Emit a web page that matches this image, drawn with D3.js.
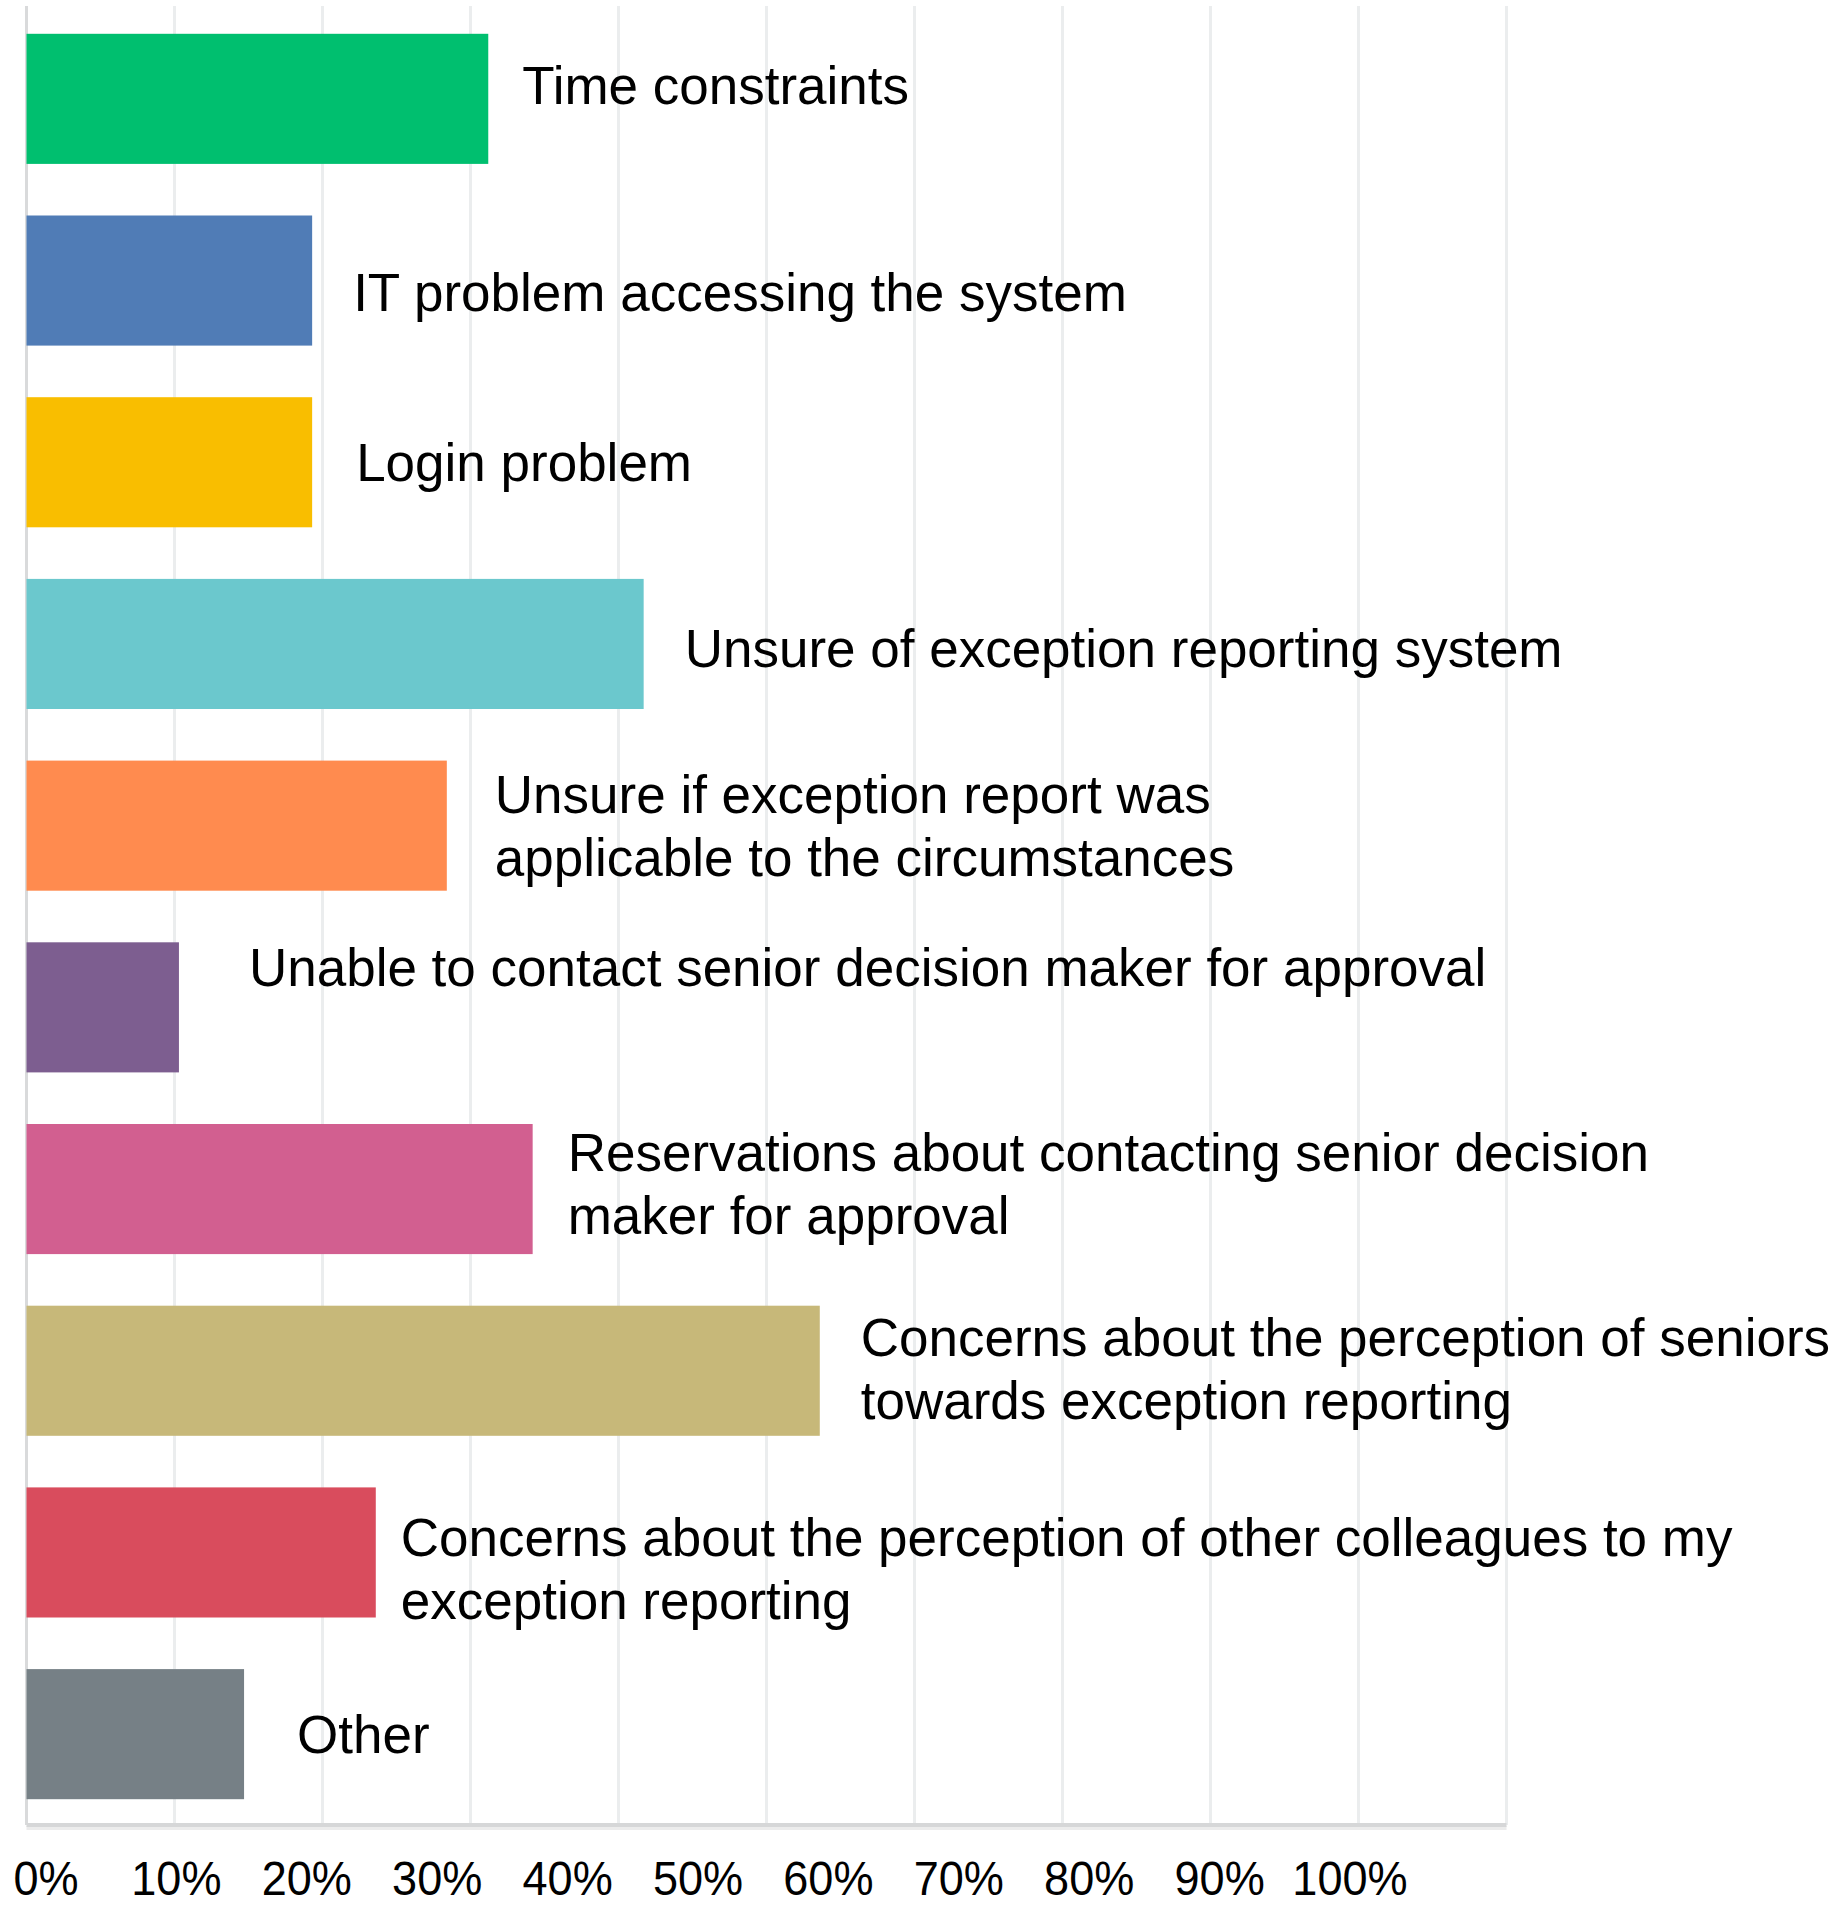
<!DOCTYPE html>
<html>
<head>
<meta charset="utf-8">
<script src="https://cdn.jsdelivr.net/npm/d3@7/dist/d3.min.js"></script>
<style>
  html, body { margin: 0; padding: 0; background: #ffffff; }
  svg { display: block; }
  text { font-family: "Liberation Sans", Arial, Helvetica, sans-serif; fill: #000; }
</style>
</head>
<body>
<svg id="chart" width="1843" height="1906"></svg>
<script>
// Reasons for not submitting an exception report (% of respondents)
const categories = [
  ["Time constraints"],
  ["IT problem accessing the system"],
  ["Login problem"],
  ["Unsure of exception reporting system"],
  ["Unsure if exception report was", "applicable to the circumstances"],
  ["Unable to contact senior decision maker for approval"],
  ["Reservations about contacting senior decision", "maker for approval"],
  ["Concerns about the perception of seniors", "towards exception reporting"],
  ["Concerns about the perception of other colleagues to my", "exception reporting"],
  ["Other"]
];
const values = [31.2, 19.3, 19.3, 41.7, 28.4, 10.3, 34.2, 53.6, 23.6, 14.7];
const colors = ["#00BF6F", "#507CB6", "#F9BE00", "#6BC8CD", "#FF8B4F",
                "#7D5E90", "#D25F90", "#C7B879", "#D94C5D", "#768086"];
const tickValues = [0, 10, 20, 30, 40, 50, 60, 70, 80, 90, 100];
const tickLabels = ["0%", "10%", "20%", "30%", "40%", "50%", "60%", "70%", "80%", "90%", "100%"];

// Label placement: horizontal gap after each bar end and vertical nudge from bar centre
const labelGap = [34, 41, 44, 41, 48, 70, 35, 41, 25, 53];
const labelDy  = [-14, 11, 0, 4, 0, -40, -6, -2, 16, 0];

const svg = d3.select("#chart");
const plotTop = 6, axisY = 1825;

const x = d3.scaleLinear().domain([0, 100]).range([26.5, 1506.5]);
const y = d3.scaleBand()
  .domain(d3.range(values.length))
  .range([8, axisY])
  .paddingInner(0.284)
  .paddingOuter(0.142);

// Vertical gridlines
svg.append("g")
  .selectAll("line")
  .data(tickValues.slice(1))
  .join("line")
  .attr("x1", d => x(d)).attr("x2", d => x(d))
  .attr("y1", plotTop).attr("y2", axisY)
  .attr("stroke", "#ebedee")
  .attr("stroke-width", 3);

// Left baseline
svg.append("line")
  .attr("x1", x(0)).attr("x2", x(0))
  .attr("y1", plotTop).attr("y2", axisY)
  .attr("stroke", "#d9dadb")
  .attr("stroke-width", 3);

// Bars
svg.append("g")
  .selectAll("rect")
  .data(values)
  .join("rect")
  .attr("x", x(0))
  .attr("y", (d, i) => y(i))
  .attr("width", d => x(d) - x(0))
  .attr("height", y.bandwidth())
  .attr("fill", (d, i) => colors[i]);

// Bottom axis line with a soft shadow
svg.append("line")
  .attr("x1", x(0)).attr("x2", x(100))
  .attr("y1", axisY + 3).attr("y2", axisY + 3)
  .attr("stroke", "#ececec")
  .attr("stroke-width", 4);
svg.append("line")
  .attr("x1", x(0)).attr("x2", x(100))
  .attr("y1", axisY).attr("y2", axisY)
  .attr("stroke", "#d6d7d8")
  .attr("stroke-width", 4);

// Category labels beside each bar
const fontSize = 53, lineH = 63;
const labels = svg.append("g")
  .selectAll("text")
  .data(categories)
  .join("text")
  .attr("font-size", fontSize)
  .attr("x", (d, i) => x(values[i]) + labelGap[i])
  .attr("y", (d, i) => {
    const mid = y(i) + y.bandwidth() / 2 + labelDy[i];
    return mid - (d.length - 1) * lineH / 2 + 0.358 * fontSize;
  });
labels.selectAll("tspan")
  .data(d => d)
  .join("tspan")
  .attr("x", function () { return this.parentNode.getAttribute("x"); })
  .attr("dy", (d, j) => j === 0 ? 0 : lineH)
  .text(d => d);

// Percentage tick labels along the bottom
const labelX = d3.scaleLinear().domain([0, 100]).range([46, 1350]);
svg.append("g")
  .selectAll("text")
  .data(tickValues)
  .join("text")
  .attr("transform", d => `translate(${labelX(d)},1895) scale(0.92,1)`)
  .attr("text-anchor", "middle")
  .attr("font-size", 49)
  .text((d, i) => tickLabels[i]);
</script>
</body>
</html>
